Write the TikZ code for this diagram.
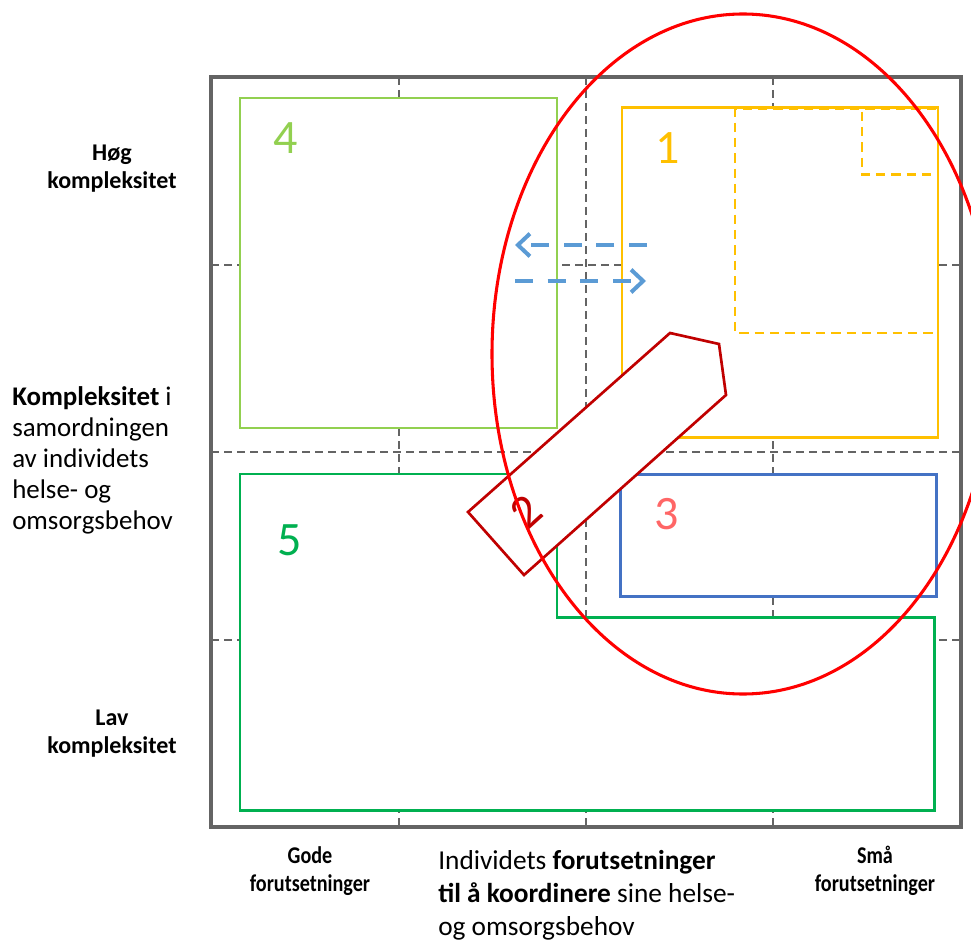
\documentclass[tikz,border=0pt]{standalone}
\usepackage{fontspec}
\setmainfont{Carlito}
\usetikzlibrary{arrows.meta}
\definecolor{framegray}{RGB}{100,100,100}
\definecolor{yel}{RGB}{255,192,0}
\definecolor{lgreen}{RGB}{146,208,80}
\definecolor{dgreen}{RGB}{0,176,80}
\definecolor{bluebox}{RGB}{68,114,196}
\definecolor{salmon}{RGB}{255,102,102}
\definecolor{darkred}{RGB}{192,0,0}
\definecolor{arrowblue}{RGB}{91,155,213}
\begin{document}
\begin{tikzpicture}[x=0.75pt,y=-0.75pt,
  gridline/.style={draw=framegray, line width=2pt, dash pattern=on 6pt off 3.75pt},
  frame/.style={draw=framegray, line width=2.5pt},
  box/.style={fill=white, line width=2pt},
  innerdash/.style={draw=yel, line width=2pt, dash pattern=on 7pt off 4.5pt},
  digit/.style={font=\fontsize{36}{40}\selectfont, inner sep=0pt},
  corner/.style={font=\bfseries\fontsize{18}{21}\selectfont, align=center},
  flow/.style={draw=arrowblue, line width=3pt, dash pattern=on 13.5pt off 11pt,
    -{Straight Barb[length=9pt,width=17pt,line width=3pt]}}]
\useasboundingbox (0,0) rectangle (971,941);
\clip (0,0) rectangle (971,941);
% grid
\draw[gridline] (399,77) -- (399,827);
\draw[gridline] (586,77) -- (586,827);
\draw[gridline] (773,77) -- (773,827);
\draw[gridline] (211,265) -- (961,265);
\draw[gridline] (211,452) -- (961,452);
\draw[gridline] (211,640) -- (961,640);
\draw[frame] (211,77) rectangle (961,827);
% box 4
\draw[box, draw=lgreen] (240,98) rectangle (557,428);
\node[digit, text=lgreen] (d4) at (286,138) {4};
% box 1
\draw[box, draw=yel] (622,107.5) rectangle (938,437.5);
\draw[innerdash] (936,109) -- (735,109) -- (735,333) -- (936,333);
\draw[innerdash] (936,109) -- (862,109) -- (862,174.5) -- (936,174.5);
\node[digit, text=yel] (d1) at (668,148) {1};
% box 5
\draw[box, draw=dgreen] (240,474) -- (557,474) -- (557,617.5) -- (934.5,617.5) -- (934.5,810.5) -- (240,810.5) -- cycle;
\node[digit, text=dgreen] (d5) at (290,540) {5};
% box 3
\draw[box, draw=bluebox] (620.5,474.5) rectangle (936.5,596.5);
\node[digit, text=salmon] (d3) at (666.5,514) {3};
% blue arrows
\coordinate (a1s) at (647,245);
\coordinate (a1e) at (515,245);
\coordinate (a2s) at (515,281);
\coordinate (a2e) at (646,281);
\draw[flow] (a1s) -- (a1e);
\draw[flow] (a2s) -- (a2e);
% shape 2
\draw[fill=white, draw=darkred, line width=2pt, line join=miter]
  (468,512) -- (670,333) -- (719,344) -- (726,395) -- (524,575) -- cycle;
\node[digit, text=darkred, rotate=42] (d2) at (526,512) {2};
% ellipse
\draw[red, line width=2.3pt] (743,354) ellipse [x radius=188.25pt, y radius=255pt];
% texts
\node[corner] (hoeg) at (112,169) {Høg\\kompleksitet};
\node[corner] (lav) at (112,734) {Lav\\kompleksitet};
\node[corner, xscale=0.84, transform shape] (gode) at (310,871) {Gode\\forutsetninger};
\node[corner, xscale=0.84, transform shape] (smaa) at (875,871) {Små\\forutsetninger};
\node[font=\fontsize{20.2}{23.25}\selectfont, align=left, anchor=west, inner sep=0pt] (kompl) at (12,460)
  {\textbf{Kompleksitet} i\\samordningen\\av individets\\helse- og\\omsorgsbehov};
\node[font=\fontsize{20.5}{24.75}\selectfont, align=left, anchor=west, inner sep=0pt] (indiv) at (438,895)
  {Individets \textbf{forutsetninger}\\\textbf{til å koordinere} sine helse-\\og omsorgsbehov};
\end{tikzpicture}
\end{document}
